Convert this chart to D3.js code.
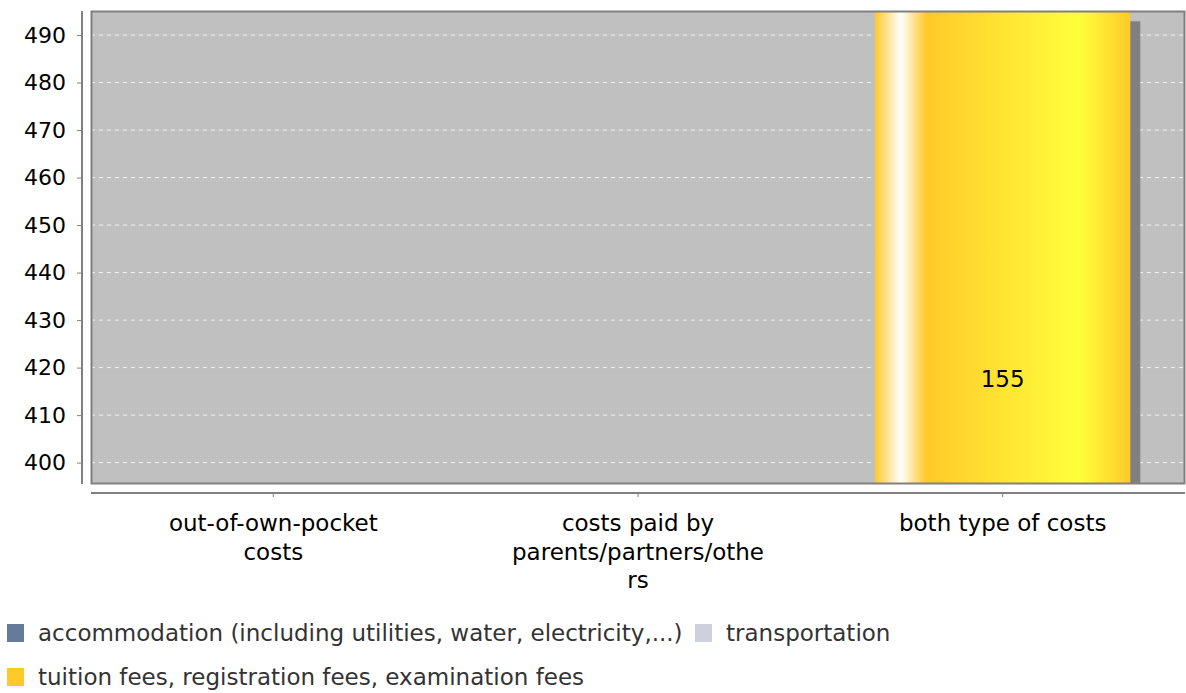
<!DOCTYPE html>
<html>
<head>
<meta charset="utf-8">
<script src="https://cdn.jsdelivr.net/npm/d3@7"></script>
<style>
  html, body { margin: 0; padding: 0; background: #fff; }
  svg { display: block; font-family: "DejaVu Sans", sans-serif; }
</style>
</head>
<body>
<svg id="chart" width="1186" height="693"></svg>
<script>
// ---- data ----
const categories = ["out-of-own-pocket costs", "costs paid by parents/partners/others", "both type of costs"];
const categoryLines = [["out-of-own-pocket", "costs"], ["costs paid by", "parents/partners/othe", "rs"], ["both type of costs"]];
const seriesNames = ["accommodation (including utilities, water, electricity,...)", "transportation", "tuition fees, registration fees, examination fees"];
const accommodation = [170, 190, 262];
const transportation = [60, 75, 78];
const tuition = [95, 110, 155];
const yTicks = [400, 410, 420, 430, 440, 450, 460, 470, 480, 490];
const yDomain = [395.5, 495.06];
const seriesColors = ["#667a99", "#ccd1db", "#ffc929"];

const svg = d3.select("#chart");
const plot = { left: 91, right: 1185, top: 11, bottom: 484 };
const FS = 23;

const x = d3.scaleBand().domain(categories).range([plot.left, plot.right]).paddingInner(0.3).paddingOuter(0.15);
const y = d3.scaleLinear().domain(yDomain).range([plot.bottom, plot.top]);

const defs = svg.append("defs");
defs.append("clipPath").attr("id", "plotClip").append("rect")
  .attr("x", plot.left).attr("y", plot.top)
  .attr("width", plot.right - plot.left).attr("height", plot.bottom - plot.top);

// JFreeChart GradientBarPainter-like gradients
function brighter(hex) {
  const c = d3.rgb(hex);
  const f = v => Math.min(255, Math.round(v / 0.7));
  return d3.rgb(f(c.r), f(c.g), f(c.b)).formatHex();
}
seriesColors.forEach((col, i) => {
  const g = defs.append("linearGradient").attr("id", "grad" + i).attr("x1", "0").attr("x2", "1").attr("y1", "0").attr("y2", "0");
  const c1 = brighter(col);
  [[0, col], [0.10, "#ffffff"], [0.20, col], [0.80, c1], [1, col]].forEach(([o, c]) =>
    g.append("stop").attr("offset", o).attr("stop-color", c));
});

// plot background
svg.append("rect").attr("x", plot.left).attr("y", plot.top)
  .attr("width", plot.right - plot.left).attr("height", plot.bottom - plot.top)
  .attr("fill", "#c0c0c0");

// gridlines
svg.append("g").selectAll("line").data(yTicks).join("line")
  .attr("x1", plot.left).attr("x2", plot.right)
  .attr("y1", d => y(d)).attr("y2", d => y(d))
  .attr("stroke", "#ffffff").attr("stroke-opacity", 0.8).attr("stroke-width", 1)
  .attr("stroke-dasharray", "4,4");

// stacked data
const rows = categories.map((c, i) => ({ cat: c, vals: [accommodation[i], transportation[i], tuition[i]] }));
const segs = [];
rows.forEach(r => {
  let base = 0;
  r.vals.forEach((v, s) => { segs.push({ cat: r.cat, s, y0: base, y1: base + v, v }); base += v; });
});

const barG = svg.append("g").attr("clip-path", "url(#plotClip)");
barG.selectAll("rect.shadow").data(segs).join("rect").attr("class", "shadow")
  .attr("x", d => x(d.cat) + 10).attr("width", x.bandwidth())
  .attr("y", d => y(d.y1) + 10).attr("height", d => Math.max(0, y(d.y0) - y(d.y1)))
  .attr("fill", "#808080");
barG.selectAll("rect.bar").data(segs).join("rect").attr("class", "bar")
  .attr("x", d => x(d.cat)).attr("width", x.bandwidth())
  .attr("y", d => y(d.y1)).attr("height", d => Math.max(0, y(d.y0) - y(d.y1)))
  .attr("fill", d => "url(#grad" + d.s + ")");
barG.selectAll("text.lbl").data(segs.filter(d => (d.y0 + d.y1) / 2 > yDomain[0] && (d.y0 + d.y1) / 2 < yDomain[1])).join("text")
  .attr("class", "lbl")
  .attr("x", d => x(d.cat) + x.bandwidth() / 2)
  .attr("y", d => y((d.y0 + d.y1) / 2))
  .attr("text-anchor", "middle").attr("dominant-baseline", "central")
  .attr("font-size", FS).attr("fill", "#000")
  .text(d => d.v);

// plot outline
svg.append("rect").attr("x", plot.left + 0.5).attr("y", plot.top + 0.5)
  .attr("width", plot.right - plot.left - 1).attr("height", plot.bottom - plot.top - 1)
  .attr("fill", "none").attr("stroke", "#808080").attr("stroke-width", 2);

// y axis
const yAxis = d3.axisLeft(y).tickValues(yTicks).tickSize(5).tickPadding(11);
const ya = svg.append("g").attr("transform", "translate(82,0)").call(yAxis);
ya.select(".domain").attr("d", `M0,${plot.top}V${plot.bottom}`).attr("stroke", "#808080").attr("stroke-width", 2);
ya.selectAll(".tick line").attr("stroke", "#808080");
ya.selectAll(".tick text").attr("font-size", 22).attr("font-family", "DejaVu Sans").attr("fill", "#000");

// x axis
const xAxis = d3.axisBottom(x).tickSize(4).tickFormat("");
const xa = svg.append("g").attr("transform", "translate(0,493)").call(xAxis);
xa.select(".domain").attr("d", `M${plot.left},0H${plot.right}`).attr("stroke", "#808080").attr("stroke-width", 2);
xa.selectAll(".tick line").attr("stroke", "#808080");
categories.forEach((c, i) => {
  const t = svg.append("text").attr("x", x(c) + x.bandwidth() / 2).attr("text-anchor", "middle")
    .attr("font-size", FS).attr("fill", "#000");
  categoryLines[i].forEach((ln, j) => {
    t.append("tspan").attr("x", x(c) + x.bandwidth() / 2).attr("y", 531 + j * 28.5).text(ln);
  });
});

// legend
const legendItems = [
  { name: seriesNames[0], color: seriesColors[0], x: 7, y: 633 },
  { name: seriesNames[1], color: seriesColors[1], x: 695, y: 633 },
  { name: seriesNames[2], color: seriesColors[2], x: 7, y: 677 }
];
const lg = svg.append("g");
legendItems.forEach(it => {
  lg.append("rect").attr("x", it.x).attr("y", it.y - 9).attr("width", 17).attr("height", 18).attr("fill", it.color);
  lg.append("text").attr("x", it.x + 31).attr("y", it.y).attr("dominant-baseline", "central")
    .attr("font-size", FS).attr("fill", "#333").text(it.name);
});
</script>
</body>
</html>
